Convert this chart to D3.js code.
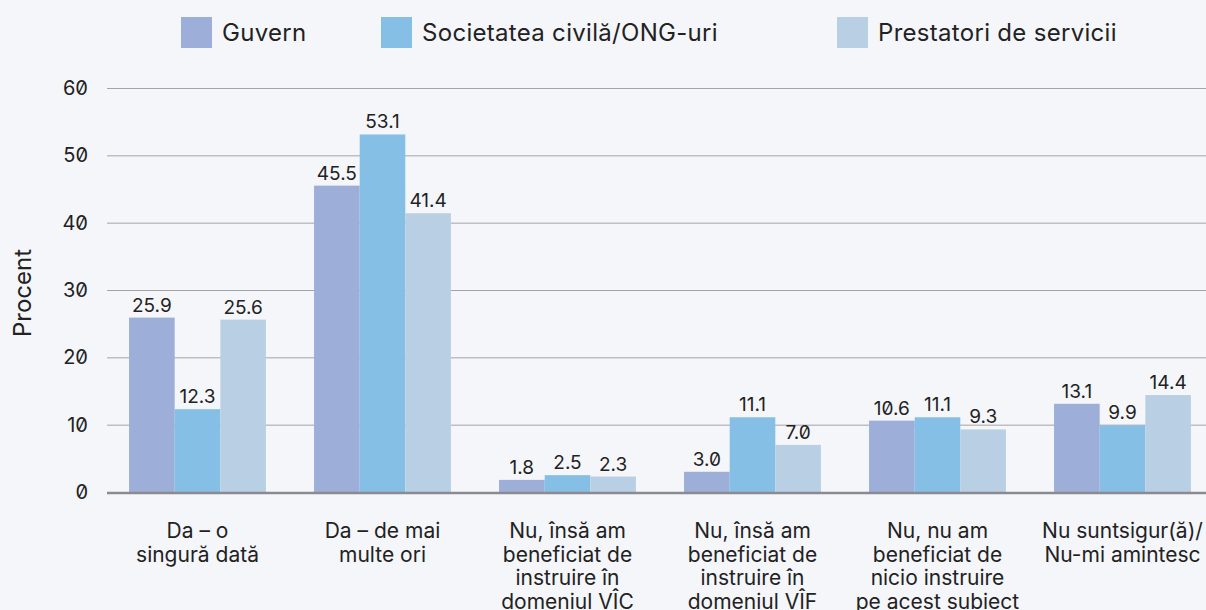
<!DOCTYPE html>
<html>
<head>
<meta charset="utf-8">
<script src="https://cdn.jsdelivr.net/npm/d3@7"></script>
<style>
  html, body { margin: 0; padding: 0; background: #f5f6fa; }
  svg { display: block; font-family: Inter, "Noto Sans", sans-serif; font-feature-settings: "zero" 1; }
</style>
</head>
<body>
<div id="chart"></div>
<script>
const width = 1206;
const height = 610;

// Données
const categories = [
    ["Da – o", "singură dată"],
    ["Da – de mai", "multe ori"],
    ["Nu, însă am", "beneficiat de", "instruire în", "domeniul VÎC"],
    ["Nu, însă am", "beneficiat de", "instruire în", "domeniul VÎF"],
    ["Nu, nu am", "beneficiat de", "nicio instruire", "pe acest subiect"],
    ["Nu suntsigur(ă)/", "Nu-mi amintesc"]
];
const seriesNames = ["Guvern", "Societatea civilă/ONG-uri", "Prestatori de servicii"];
const guvern = [25.9, 45.5, 1.8, 3.0, 10.6, 13.1];
const societatea = [12.3, 53.1, 2.5, 11.1, 11.1, 9.9];
const prestatori = [25.6, 41.4, 2.3, 7.0, 9.3, 14.4];
const yTicks = [0, 10, 20, 30, 40, 50, 60];
const colors = ["#9dafd9", "#85bfe6", "#b9d0e4"];

const series = [guvern, societatea, prestatori];

const svg = d3.select("#chart")
    .append("svg")
    .attr("width", width)
    .attr("height", height);

// Échelles
const x0 = d3.scaleBand()
    .domain(d3.range(categories.length))
    .range([105, 1215])
    .paddingInner(0.26)
    .paddingOuter(0.13);

const x1 = d3.scaleBand()
    .domain(d3.range(series.length))
    .range([0, x0.bandwidth()]);

const y = d3.scaleLinear()
    .domain([0, 60])
    .range([492, 88]);

// Grille
svg.append("g")
    .selectAll("line")
    .data(yTicks.filter(d => d > 0))
    .join("line")
    .attr("x1", 107)
    .attr("x2", width)
    .attr("y1", d => y(d) + 0.5)
    .attr("y2", d => y(d) + 0.5)
    .attr("stroke", "#a3a3a8")
    .attr("stroke-width", 1);

// Axe Y
const yAxis = svg.append("g")
    .attr("transform", "translate(107,0)")
    .call(d3.axisLeft(y).tickValues(yTicks).tickSize(0).tickPadding(19));
yAxis.select(".domain").remove();
yAxis.selectAll("text")
    .attr("font-size", 20)
    .attr("font-family", "Inter, sans-serif")
    .attr("fill", "#222");

svg.append("text")
    .attr("transform", "translate(31,293) rotate(-90)")
    .attr("text-anchor", "middle")
    .attr("font-size", 24)
    .attr("fill", "#222")
    .text("Procent");

// Barres
const groups = svg.append("g")
    .selectAll("g")
    .data(categories.map((c, i) => i))
    .join("g")
    .attr("transform", i => `translate(${x0(i)},0)`);

groups.selectAll("rect")
    .data(i => series.map((s, k) => ({ k, v: s[i] })))
    .join("rect")
    .attr("x", d => x1(d.k))
    .attr("width", x1.bandwidth())
    .attr("y", d => y(d.v))
    .attr("height", d => y(0) - y(d.v))
    .attr("fill", d => colors[d.k]);

groups.selectAll("text")
    .data(i => series.map((s, k) => ({ k, v: s[i] })))
    .join("text")
    .attr("x", d => x1(d.k) + x1.bandwidth() / 2)
    .attr("y", d => y(d.v) - 6)
    .attr("text-anchor", "middle")
    .attr("font-size", 19)
    .attr("fill", "#222")
    .text(d => d.v.toFixed(1));

// Ligne de base
svg.append("line")
    .attr("x1", 107)
    .attr("x2", width)
    .attr("y1", y(0) + 1)
    .attr("y2", y(0) + 1)
    .attr("stroke", "#8a8a90")
    .attr("stroke-width", 2.5);

// Étiquettes X
const xLabels = svg.append("g")
    .selectAll("text")
    .data(categories)
    .join("text")
    .attr("x", (d, i) => x0(i) + x0.bandwidth() / 2)
    .attr("y", 538)
    .attr("text-anchor", "middle")
    .attr("font-size", 21)
    .attr("fill", "#222");
xLabels.selectAll("tspan")
    .data(d => d)
    .join("tspan")
    .attr("x", function() { return this.parentNode.getAttribute("x"); })
    .attr("dy", (d, j) => j === 0 ? 0 : 23.5)
    .text(d => d);

// Légende
const legendX = [181, 381, 837];
const legend = svg.append("g")
    .selectAll("g")
    .data(seriesNames)
    .join("g")
    .attr("transform", (d, i) => `translate(${legendX[i]},17)`);
legend.append("rect")
    .attr("width", 31)
    .attr("height", 31)
    .attr("fill", (d, i) => colors[i]);
legend.append("text")
    .attr("x", 41)
    .attr("y", 24)
    .attr("font-size", 24)
    .attr("letter-spacing", 0.3)
    .attr("fill", "#222")
    .text(d => d);
</script>
</body>
</html>
